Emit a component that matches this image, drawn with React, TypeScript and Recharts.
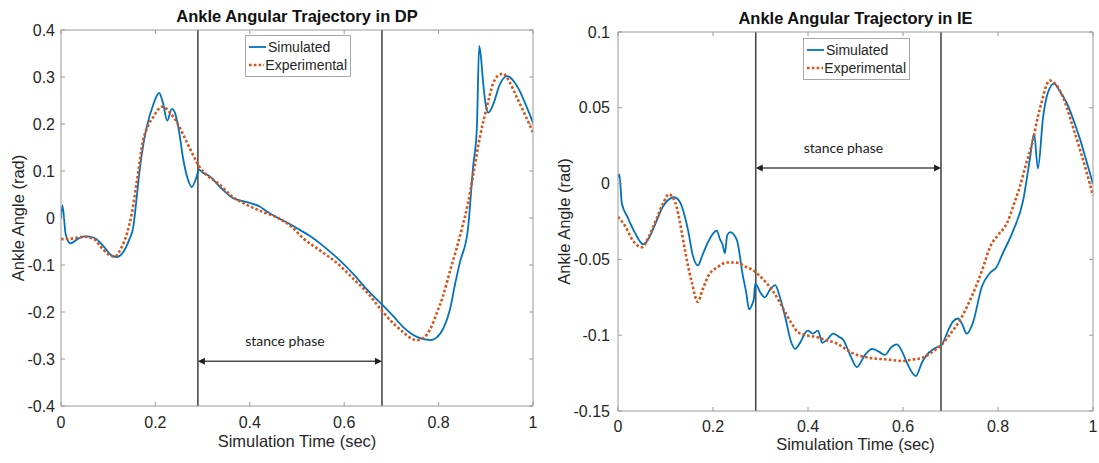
import React from "react";
import { LineChart, Line, XAxis, YAxis, ReferenceLine, Legend } from "recharts";

// DP (dorsi/plantar) trajectories, time in sec, angle in rad
const dpSimT = [0, 0.003, 0.01, 0.02, 0.035, 0.05, 0.07, 0.09, 0.105, 0.118, 0.13, 0.145, 0.153, 0.16, 0.167, 0.175, 0.182, 0.195, 0.208, 0.216, 0.225, 0.235, 0.242, 0.25, 0.259, 0.268, 0.277, 0.288, 0.292, 0.3, 0.316, 0.337, 0.365, 0.385, 0.4, 0.42, 0.436, 0.46, 0.48, 0.5, 0.527, 0.55, 0.585, 0.62, 0.648, 0.682, 0.705, 0.725, 0.754, 0.782, 0.795, 0.81, 0.824, 0.835, 0.845, 0.862, 0.873, 0.881, 0.886, 0.89, 0.894, 0.9, 0.905, 0.915, 0.93, 0.945, 0.96, 0.972, 0.985, 1.0];
const dpSimV = [0.0, 0.027, -0.035, -0.054, -0.045, -0.039, -0.042, -0.06, -0.078, -0.083, -0.075, -0.045, -0.02, 0.04, 0.105, 0.16, 0.195, 0.24, 0.266, 0.245, 0.207, 0.232, 0.222, 0.185, 0.125, 0.085, 0.066, 0.09, 0.103, 0.097, 0.088, 0.066, 0.042, 0.036, 0.032, 0.025, 0.014, 0.0, -0.01, -0.022, -0.038, -0.055, -0.085, -0.12, -0.152, -0.186, -0.21, -0.232, -0.253, -0.26, -0.255, -0.235, -0.195, -0.14, -0.095, -0.025, 0.108, 0.19, 0.366, 0.34, 0.292, 0.24, 0.224, 0.24, 0.285, 0.302, 0.29, 0.27, 0.24, 0.203];
const dpExpT = [0, 0.02, 0.05, 0.07, 0.083, 0.1, 0.114, 0.127, 0.14, 0.15, 0.161, 0.174, 0.185, 0.195, 0.205, 0.216, 0.23, 0.246, 0.26, 0.273, 0.294, 0.31, 0.33, 0.365, 0.4, 0.43, 0.46, 0.49, 0.513, 0.55, 0.585, 0.62, 0.65, 0.682, 0.705, 0.725, 0.74, 0.754, 0.768, 0.782, 0.795, 0.809, 0.825, 0.838, 0.85, 0.862, 0.873, 0.888, 0.902, 0.915, 0.925, 0.937, 0.95, 0.966, 0.983, 1.0];
const dpExpV = [-0.045, -0.044, -0.04, -0.045, -0.06, -0.077, -0.082, -0.065, -0.032, 0.01, 0.08, 0.165, 0.198, 0.214, 0.23, 0.237, 0.225, 0.203, 0.175, 0.148, 0.108, 0.09, 0.076, 0.044, 0.025, 0.012, 0.0, -0.02, -0.043, -0.07, -0.096, -0.13, -0.16, -0.2, -0.225, -0.243, -0.255, -0.26, -0.255, -0.237, -0.205, -0.167, -0.11, -0.065, -0.02, 0.03, 0.09, 0.175, 0.235, 0.285, 0.302, 0.307, 0.29, 0.256, 0.22, 0.182];

// IE (inversion/eversion) trajectories
const ieSimT = [0, 0.003, 0.008, 0.02, 0.035, 0.053, 0.065, 0.078, 0.095, 0.118, 0.13, 0.147, 0.158, 0.168, 0.178, 0.189, 0.2, 0.208, 0.215, 0.22, 0.225, 0.23, 0.236, 0.25, 0.263, 0.27, 0.276, 0.282, 0.286, 0.289, 0.3, 0.309, 0.32, 0.331, 0.34, 0.352, 0.365, 0.373, 0.385, 0.395, 0.4, 0.41, 0.421, 0.43, 0.44, 0.453, 0.465, 0.474, 0.49, 0.503, 0.52, 0.535, 0.55, 0.562, 0.575, 0.587, 0.6, 0.608, 0.627, 0.64, 0.65, 0.665, 0.682, 0.695, 0.705, 0.716, 0.725, 0.734, 0.747, 0.766, 0.783, 0.797, 0.81, 0.832, 0.853, 0.867, 0.876, 0.884, 0.895, 0.905, 0.918, 0.93, 0.945, 0.96, 0.973, 0.987, 1.0];
const ieSimV = [0.004, 0.006, -0.013, -0.022, -0.032, -0.04, -0.036, -0.027, -0.015, -0.009, -0.012, -0.03, -0.048, -0.054, -0.047, -0.039, -0.033, -0.031, -0.037, -0.04, -0.046, -0.034, -0.032, -0.037, -0.061, -0.072, -0.083, -0.08, -0.076, -0.066, -0.072, -0.075, -0.07, -0.067, -0.074, -0.088, -0.105, -0.109, -0.104, -0.098, -0.097, -0.099, -0.097, -0.105, -0.103, -0.099, -0.101, -0.103, -0.114, -0.121, -0.113, -0.109, -0.111, -0.113, -0.108, -0.106, -0.112, -0.118, -0.127, -0.118, -0.113, -0.109, -0.106, -0.097, -0.091, -0.089, -0.093, -0.099, -0.092, -0.068, -0.059, -0.055, -0.046, -0.031, -0.011, 0.016, 0.033, 0.01, 0.044, 0.06, 0.066, 0.061, 0.053, 0.041, 0.029, 0.014, 0.0];
const ieExpT = [0, 0.015, 0.03, 0.05, 0.065, 0.08, 0.095, 0.107, 0.12, 0.133, 0.141, 0.15, 0.156, 0.168, 0.178, 0.19, 0.21, 0.23, 0.246, 0.27, 0.288, 0.305, 0.324, 0.34, 0.352, 0.365, 0.379, 0.395, 0.415, 0.435, 0.457, 0.495, 0.53, 0.566, 0.6, 0.621, 0.64, 0.657, 0.682, 0.7, 0.72, 0.738, 0.756, 0.77, 0.783, 0.8, 0.819, 0.833, 0.846, 0.86, 0.874, 0.883, 0.893, 0.9, 0.909, 0.92, 0.937, 0.955, 0.973, 0.987, 1.0];
const ieExpV = [-0.022, -0.028, -0.037, -0.042, -0.035, -0.024, -0.013, -0.007, -0.012, -0.03, -0.044, -0.058, -0.066, -0.078, -0.07, -0.061, -0.055, -0.052, -0.052, -0.055, -0.058, -0.063, -0.07, -0.078, -0.085, -0.092, -0.098, -0.1, -0.101, -0.103, -0.105, -0.112, -0.115, -0.116, -0.117, -0.116, -0.115, -0.112, -0.106, -0.099, -0.09, -0.079, -0.066, -0.054, -0.042, -0.034, -0.026, -0.014, -0.002, 0.014, 0.029, 0.043, 0.055, 0.063, 0.068, 0.066, 0.057, 0.04, 0.022, 0.007, -0.008];

const xTicks = [0, 0.2, 0.4, 0.6, 0.8, 1];
const dpTicks = [-0.4, -0.3, -0.2, -0.1, 0, 0.1, 0.2, 0.3, 0.4];
const ieTicks = [-0.15, -0.1, -0.05, 0, 0.05, 0.1];
const seriesNames = ["Simulated", "Experimental"];
const stanceStart = 0.29;
const stanceEnd = 0.68;

const FONT = '"Liberation Sans", Arial, sans-serif';
const AXIS = "#9a9a9a";
const TXT = "#262626";
const BLUE = "#0072BD";
const RED = "#D95319";
const VLINE = "#4a4a4a";
const DOTS = "2.6 2.2";

const zip = (t: number[], v: number[]) => t.map((x, i) => ({ t: x, v: v[i] }));
const noTick = () => <g />;

function StanceArrow(props: any) {
  const { x1, y1, x2, y2 } = props;
  return (
    <g>
      <line x1={x1 + 6} y1={y1} x2={x2 - 6} y2={y2} stroke={VLINE} strokeWidth={1.5} />
      <polygon points={`${x1},${y1} ${x1 + 7},${y1 - 3.5} ${x1 + 7},${y1 + 3.5}`} fill="#222" />
      <polygon points={`${x2},${y2} ${x2 - 7},${y2 - 3.5} ${x2 - 7},${y2 + 3.5}`} fill="#222" />
      <text x={(x1 + x2) / 2 - 5} y={y1 - 15} textAnchor="middle" fontFamily="Lato, 'Open Sans', sans-serif" fontSize={14} fill="#222">
        stance phase
      </text>
    </g>
  );
}

function LegendBox({ payload }: any) {
  const items = seriesNames
    .map((n) => (payload || []).find((p: any) => p.value === n))
    .filter(Boolean);
  return (
    <div
      style={{
        border: "1px solid #a8a8a8",
        background: "#fff",
        fontFamily: FONT,
        fontSize: 14,
        color: TXT,
        padding: "2px 3px 2px 2px",
        lineHeight: "18px",
        boxSizing: "border-box",
      }}
    >
      {items.map((p: any) => {
        const dotted = p.value === "Experimental";
        return (
          <div key={p.value} style={{ display: "flex", alignItems: "center", whiteSpace: "nowrap" }}>
            <svg width={19} height={8} style={{ marginRight: 1 }}>
              <line
                x1={1}
                y1={4}
                x2={18}
                y2={4}
                stroke={p.color}
                strokeWidth={dotted ? 2.6 : 1.8}
                strokeDasharray={dotted ? DOTS : undefined}
              />
            </svg>
            <span>{p.value}</span>
          </div>
        );
      })}
    </div>
  );
}

function Panel({
  title,
  sim,
  exp,
  yTicks,
  arrowY,
  width,
  margin,
  yAxisWidth,
  xAxisHeight,
  xTickMargin,
  yTickMargin,
  xLabelOffset,
  yLabelX,
  legendPos,
}: any) {
  const yDomain = [yTicks[0], yTicks[yTicks.length - 1]];
  const tickStyle = { fill: TXT, fontSize: 16, fontFamily: FONT };
  return (
    <LineChart width={width} height={463} margin={margin}>
      <XAxis
        xAxisId="b"
        dataKey="t"
        type="number"
        domain={[0, 1]}
        ticks={xTicks}
        allowDataOverflow
        height={xAxisHeight}
        tickSize={-4}
        tickMargin={xTickMargin}
        tick={tickStyle}
        stroke={AXIS}
        label={{ value: "Simulation Time (sec)", position: "insideBottom", offset: xLabelOffset, fill: TXT, fontSize: 16.5, fontFamily: FONT }}
      />
      {/* frame: top edge (1px tall axis so it is rendered) */}
      <XAxis
        xAxisId="t"
        orientation="top"
        dataKey="t"
        type="number"
        domain={[0, 1]}
        ticks={xTicks}
        allowDataOverflow
        height={1}
        tickSize={-4}
        tick={noTick}
        stroke={AXIS}
        label={{ value: title, position: "top", offset: 7, fill: "#111", fontSize: 16.5, fontWeight: "bold", fontFamily: FONT }}
      />
      <YAxis
        yAxisId="l"
        type="number"
        domain={yDomain}
        ticks={yTicks}
        allowDataOverflow
        width={yAxisWidth}
        tickSize={-4}
        tickMargin={yTickMargin}
        tick={tickStyle}
        stroke={AXIS}
        label={{
          content: (p: any) => {
            const vb = p.viewBox || {};
            const cy = vb.y + vb.height / 2;
            return (
              <text x={yLabelX} y={cy} transform={`rotate(-90 ${yLabelX} ${cy})`} textAnchor="middle" fill={TXT} fontSize={16.5} fontFamily={FONT}>
                Ankle Angle (rad)
              </text>
            );
          },
        }}
      />
      {/* frame: right edge */}
      <YAxis
        yAxisId="r"
        orientation="right"
        type="number"
        domain={yDomain}
        ticks={yTicks}
        allowDataOverflow
        width={1}
        tickSize={-4}
        tick={noTick}
        stroke={AXIS}
      />
      <ReferenceLine xAxisId="b" yAxisId="l" x={stanceStart} stroke={VLINE} strokeWidth={1.6} />
      <ReferenceLine xAxisId="b" yAxisId="l" x={stanceEnd} stroke={VLINE} strokeWidth={1.6} />
      <ReferenceLine
        xAxisId="b"
        yAxisId="l"
        segment={[
          { x: stanceStart, y: arrowY },
          { x: stanceEnd, y: arrowY },
        ]}
        shape={StanceArrow}
      />
      {/* invisible series so the top / right frame axes get a scale */}
      <Line
        xAxisId="t"
        yAxisId="r"
        data={sim}
        dataKey="v"
        name="frame"
        legendType="none"
        stroke="none"
        dot={false}
        activeDot={false}
        isAnimationActive={false}
      />
      <Line
        xAxisId="b"
        yAxisId="l"
        data={sim}
        dataKey="v"
        name="Simulated"
        type="monotone"
        stroke={BLUE}
        strokeWidth={1.8}
        dot={false}
        isAnimationActive={false}
      />
      <Line
        xAxisId="b"
        yAxisId="l"
        data={exp}
        dataKey="v"
        name="Experimental"
        type="monotone"
        stroke={RED}
        strokeWidth={2.6}
        strokeDasharray={DOTS}
        dot={false}
        isAnimationActive={false}
      />
      <Legend
        layout="vertical"
        align="center"
        verticalAlign="middle"
        content={<LegendBox />}
        wrapperStyle={{ left: legendPos.left, top: legendPos.top, width: legendPos.width, height: "auto" }}
      />
    </LineChart>
  );
}

export default function App() {
  return (
    <div style={{ position: "absolute", left: 0, top: 0, width: 1099, height: 463, background: "#fff" }}>
      <div style={{ position: "absolute", left: 0, top: 0 }}>
        <Panel
          title="Ankle Angular Trajectory in DP"
          sim={zip(dpSimT, dpSimV)}
          exp={zip(dpExpT, dpExpV)}
          yTicks={dpTicks}
          arrowY={-0.305}
          width={545}
          margin={{ top: 29, right: 11, left: 0, bottom: 0 }}
          yAxisWidth={61}
          xAxisHeight={57}
          xTickMargin={15}
          yTickMargin={10}
          xLabelOffset={16}
          yLabelX={24}
          legendPos={{ left: 245, top: 35, width: 106 }}
        />
      </div>
      <div style={{ position: "absolute", left: 550, top: 0 }}>
        <Panel
          title="Ankle Angular Trajectory in IE"
          sim={zip(ieSimT, ieSimV)}
          exp={zip(ieExpT, ieExpV)}
          yTicks={ieTicks}
          arrowY={0.0103}
          width={549}
          margin={{ top: 31, right: 5, left: 0, bottom: 0 }}
          yAxisWidth={68}
          xAxisHeight={52}
          xTickMargin={14}
          yTickMargin={12}
          xLabelOffset={13}
          yLabelX={20}
          legendPos={{ left: 253, top: 38, width: 107 }}
        />
      </div>
    </div>
  );
}
